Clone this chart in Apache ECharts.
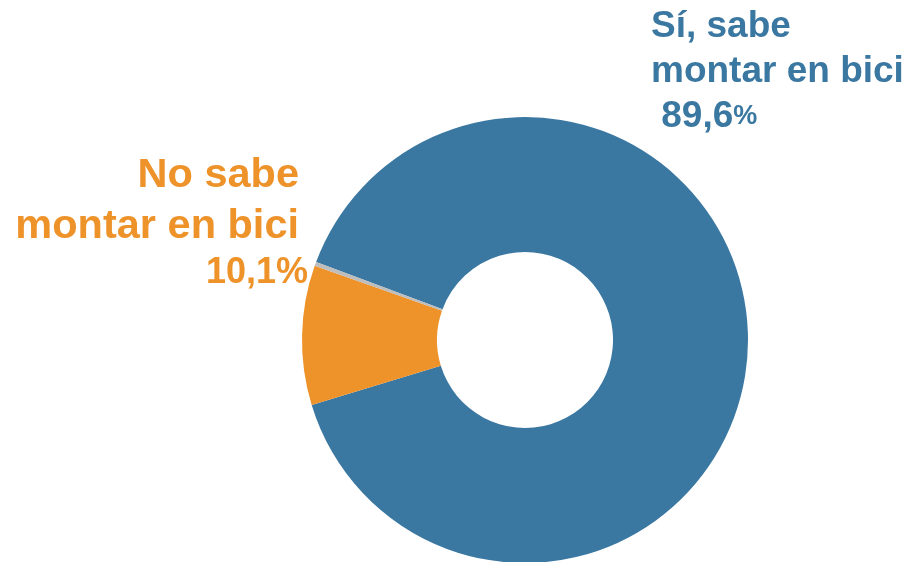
<!DOCTYPE html>
<html><head><meta charset="utf-8">
<script src="https://cdn.jsdelivr.net/npm/echarts@6/dist/echarts.min.js"></script>
<style>html,body{margin:0;padding:0;background:#fff}#c{width:910px;height:562px}</style>
</head><body><div id="c"></div>
<script>
const categories = ['Sí, sabe\nmontar en bici', 'No sabe\nmontar en bici', 'NS/NC'];
const values = [89.6, 10.1, 0.3];
const valueLabels = ['89,6', '10,1', '0,3'];
const colors = ['#3A77A1', '#EE922A', '#BDBDBD'];

const chart = echarts.init(document.getElementById('c'));
const data = categories.map((c, i) => ({
  name: c, value: values[i], itemStyle: { color: colors[i] },
  label: i === 0 ? {
    show: true,
    formatter: '{t|' + c + '}\n{v| ' + valueLabels[i] + '}{p|%}',
    rich: {
      t: { fontSize: 37, fontWeight: 'bold', color: colors[i], lineHeight: 45, fontFamily: 'Liberation Sans', align: 'left' },
      v: { fontSize: 37, fontWeight: 'bold', color: colors[i], lineHeight: 45, fontFamily: 'Liberation Sans' },
      p: { fontSize: 27, fontWeight: 'bold', color: colors[i], lineHeight: 45, fontFamily: 'Liberation Sans' }
    }
  } : i === 1 ? {
    show: true,
    formatter: '{t|' + c + '}\n{v|' + valueLabels[i] + '%}',
    rich: {
      t: { fontSize: 41.5, fontWeight: 'bold', color: colors[i], lineHeight: 51, fontFamily: 'Liberation Sans', align: 'right', padding: [0, 9, 0, 0] },
      v: { fontSize: 36, fontWeight: 'bold', color: colors[i], lineHeight: 42, fontFamily: 'Liberation Sans', align: 'right' }
    }
  } : { show: false }
}));

chart.setOption({
  animation: false,
  series: [{
    type: 'pie',
    center: [525, 340],
    radius: [88, 223],
    startAngle: 159.5,
    clockwise: true,
    avoidLabelOverlap: false,
    labelLine: { show: false },
    label: { position: 'outside' },
    labelLayout: function (p) {
      if (p.dataIndex === 0) return { x: 651, y: 4, align: 'left', verticalAlign: 'top' };
      if (p.dataIndex === 1) return { x: 308, y: 150, align: 'right', verticalAlign: 'top' };
      return {};
    },
    data: data
  }]
});
</script></body></html>
